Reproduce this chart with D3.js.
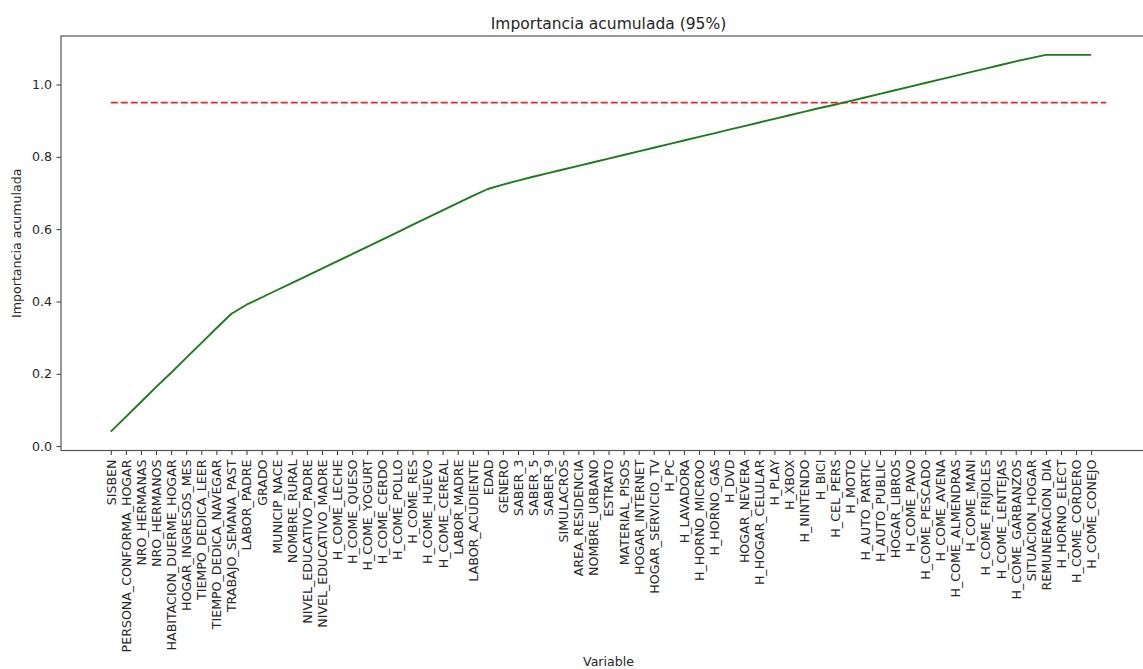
<!DOCTYPE html>
<html>
<head>
<meta charset="utf-8">
<script src="https://cdn.jsdelivr.net/npm/d3@7"></script>
<style>
  html, body { margin: 0; padding: 0; background: #fff; }
  svg { display: block; font-family: "DejaVu Sans", sans-serif; }
</style>
</head>
<body>
<svg id="chart" width="1143" height="669"></svg>
<script>
// Variables ordered as in the cumulative-importance ranking
const variables = [
  "SISBEN", "PERSONA_CONFORMA_HOGAR", "NRO_HERMANAS", "NRO_HERMANOS",
  "HABITACION_DUERME_HOGAR", "HOGAR_INGRESOS_MES", "TIEMPO_DEDICA_LEER",
  "TIEMPO_DEDICA_NAVEGAR", "TRABAJO_SEMANA_PAST", "LABOR_PADRE", "GRADO",
  "MUNICIP_NACE", "NOMBRE_RURAL", "NIVEL_EDUCATIVO_PADRE", "NIVEL_EDUCATIVO_MADRE",
  "H_COME_LECHE", "H_COME_QUESO", "H_COME_YOGURT", "H_COME_CERDO", "H_COME_POLLO",
  "H_COME_RES", "H_COME_HUEVO", "H_COME_CEREAL", "LABOR_MADRE", "LABOR_ACUDIENTE",
  "EDAD", "GENERO", "SABER_3", "SABER_5", "SABER_9", "SIMULACROS",
  "AREA_RESIDENCIA", "NOMBRE_URBANO", "ESTRATO", "MATERIAL_PISOS",
  "HOGAR_INTERNET", "HOGAR_SERVICIO_TV", "H_PC", "H_LAVADORA", "H_HORNO_MICROO",
  "H_HORNO_GAS", "H_DVD", "HOGAR_NEVERA", "H_HOGAR_CELULAR", "H_PLAY", "H_XBOX",
  "H_NINTENDO", "H_BICI", "H_CEL_PERS", "H_MOTO", "H_AUTO_PARTIC", "H_AUTO_PUBLIC",
  "HOGAR_LIBROS", "H_COME_PAVO", "H_COME_PESCADO", "H_COME_AVENA",
  "H_COME_ALMENDRAS", "H_COME_MANI", "H_COME_FRIJOLES", "H_COME_LENTEJAS",
  "H_COME_GARBANZOS", "SITUACION_HOGAR", "REMUNERACION_DIA", "H_HORNO_ELECT",
  "H_COME_CORDERO", "H_COME_CONEJO"
];

// Cumulative importance for each variable
const cumulativeImportance = [
  0.040, 0.081, 0.122, 0.163, 0.203, 0.244, 0.285, 0.326, 0.366, 0.391,
  0.411, 0.431, 0.451, 0.471, 0.491, 0.511, 0.531, 0.551, 0.571, 0.591,
  0.612, 0.632, 0.652, 0.672, 0.692, 0.711, 0.723, 0.734, 0.745, 0.755,
  0.765, 0.775, 0.785, 0.795, 0.805, 0.815, 0.825, 0.835, 0.845, 0.855,
  0.865, 0.875, 0.885, 0.895, 0.905, 0.915, 0.925, 0.935, 0.944, 0.954,
  0.964, 0.974, 0.984, 0.994, 1.004, 1.014, 1.024, 1.034, 1.044, 1.054,
  1.064, 1.073, 1.082, 1.082, 1.082, 1.082
];

// 95% threshold line, drawn from the first index to len(variables)
const threshold = 0.95;
const yTicks = [0.0, 0.2, 0.4, 0.6, 0.8, 1.0];

const svg = d3.select("#chart");
const plot = { left: 61, right: 1156, top: 36, bottom: 450.5 };

// x range padded by 5% of the data span (0 .. len), as in matplotlib autoscaling
const xMaxData = variables.length;
const xPad = 0.05 * xMaxData;
const x = d3.scaleLinear()
  .domain([-xPad, xMaxData + xPad])
  .range([plot.left, plot.right]);

const yMin = d3.min(cumulativeImportance), yMax = d3.max(cumulativeImportance);
const yPad = 0.05 * (yMax - yMin);
const y = d3.scaleLinear()
  .domain([yMin - yPad, yMax + yPad])
  .range([plot.bottom, plot.top]);

const textColor = "#262626";

// Threshold line (red dashed)
svg.append("line")
  .attr("x1", x(0)).attr("x2", x(variables.length))
  .attr("y1", y(threshold)).attr("y2", y(threshold))
  .attr("stroke", "#e3262b")
  .attr("stroke-width", 1.9)
  .attr("stroke-dasharray", "7,3");

// Cumulative importance line (green)
const line = d3.line()
  .x((d, i) => x(i))
  .y(d => y(d));

svg.append("path")
  .datum(cumulativeImportance)
  .attr("fill", "none")
  .attr("stroke", "#1d7a1d")
  .attr("stroke-width", 1.9)
  .attr("stroke-linejoin", "round")
  .attr("d", line);

// Axes
const xAxis = d3.axisBottom(x)
  .tickValues(d3.range(variables.length))
  .tickFormat(i => variables[i])
  .tickSize(4.5)
  .tickPadding(4.5);

const gx = svg.append("g")
  .attr("transform", `translate(0,${plot.bottom})`)
  .call(xAxis);
gx.select(".domain").remove();
gx.selectAll(".tick line").attr("stroke", "#333");
gx.selectAll(".tick text")
  .attr("fill", textColor)
  .style("font-size", "12.6px")
  .style("font-family", "'DejaVu Sans', sans-serif")
  .attr("text-anchor", "end")
  .attr("transform", "rotate(-90)")
  .attr("x", -9)
  .attr("y", 0)
  .attr("dy", "0.35em");

const yAxis = d3.axisLeft(y)
  .tickValues(yTicks)
  .tickFormat(d3.format(".1f"))
  .tickSize(4.5)
  .tickPadding(4.5);

const gy = svg.append("g")
  .attr("transform", `translate(${plot.left},0)`)
  .call(yAxis);
gy.select(".domain").remove();
gy.selectAll(".tick line").attr("stroke", "#333");
gy.selectAll(".tick text")
  .attr("fill", textColor)
  .style("font-size", "12.6px")
  .style("font-family", "'DejaVu Sans', sans-serif");

// Frame
svg.append("rect")
  .attr("x", plot.left).attr("y", plot.top)
  .attr("width", plot.right - plot.left)
  .attr("height", plot.bottom - plot.top)
  .attr("fill", "none")
  .attr("stroke", "#555")
  .attr("stroke-width", 1.2);

// Title and axis labels
svg.append("text")
  .attr("x", (plot.left + plot.right) / 2)
  .attr("y", 29)
  .attr("text-anchor", "middle")
  .attr("fill", textColor)
  .style("font-size", "15.5px")
  .text("Importancia acumulada (95%)");

svg.append("text")
  .attr("x", (plot.left + plot.right) / 2)
  .attr("y", 666)
  .attr("text-anchor", "middle")
  .attr("fill", textColor)
  .style("font-size", "12.6px")
  .text("Variable");

svg.append("text")
  .attr("transform", `translate(17,${(plot.top + plot.bottom) / 2}) rotate(-90)`)
  .attr("text-anchor", "middle")
  .attr("dy", "0.35em")
  .attr("fill", textColor)
  .style("font-size", "12.6px")
  .text("Importancia acumulada");
</script>
</body>
</html>
